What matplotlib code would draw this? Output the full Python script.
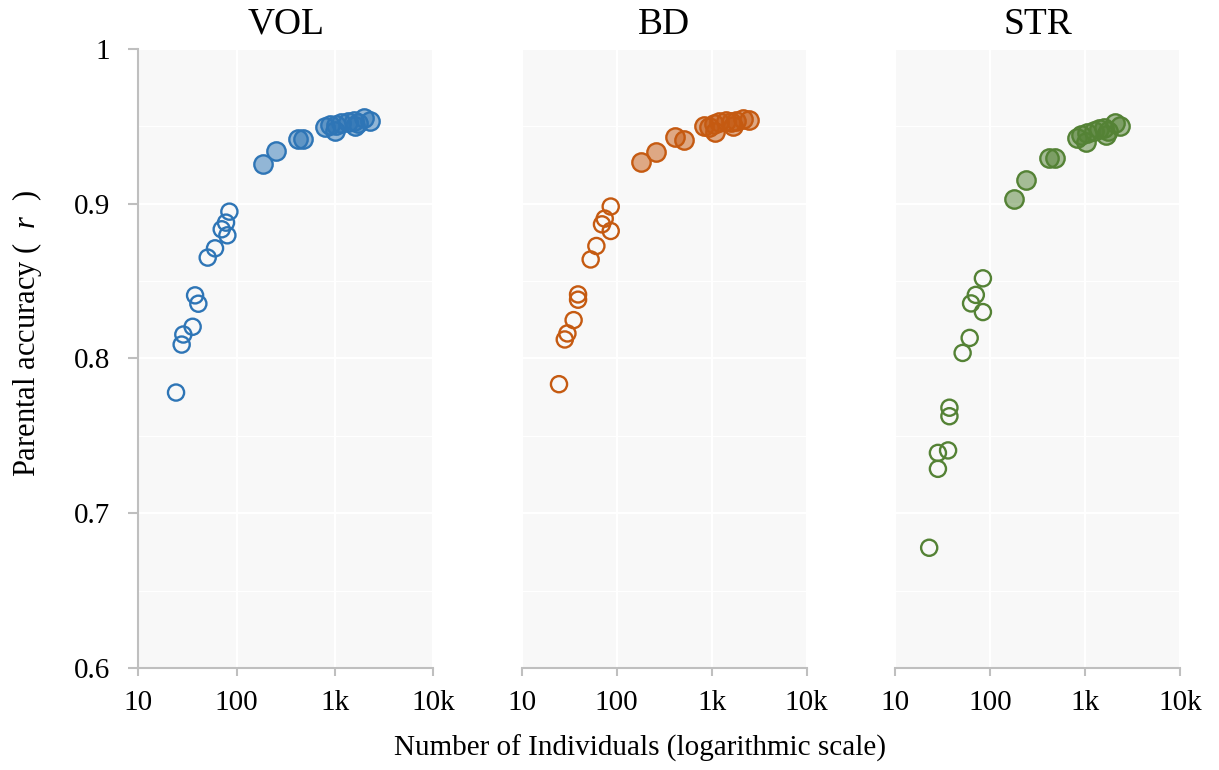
import matplotlib
matplotlib.use("Agg")
import matplotlib.pyplot as plt
from matplotlib.ticker import FixedLocator, FixedFormatter, MultipleLocator, NullFormatter

plt.rcParams['font.family'] = ['Liberation Serif', 'DejaVu Serif']
plt.rcParams['mathtext.fontset'] = 'custom'
plt.rcParams['mathtext.rm'] = 'Liberation Serif'
plt.rcParams['mathtext.it'] = 'Liberation Serif:italic'

# ---- data: number of individuals and parental accuracy per trait ----
traits = ["VOL", "BD", "STR"]
colors = ["#2E75B6", "#C55A11", "#548235"]

vol_small_n = [24.2, 27.6, 28.7, 35.7, 37.8, 40.8, 50.8, 60.3, 70.5, 78, 80.5, 84.4]
vol_small_r = [0.778, 0.809, 0.8155, 0.8205, 0.8408, 0.8354, 0.8652, 0.8712,
               0.8835, 0.8878, 0.8796, 0.8949]
vol_large_n = [184, 253, 416, 474, 783, 891, 1000, 1016, 1165, 1356, 1555, 1581,
               1706, 1986, 2280]
vol_large_r = [0.926, 0.934, 0.9418, 0.9416, 0.9494, 0.9509, 0.9472, 0.9509, 0.952,
               0.953, 0.9537, 0.9502, 0.9524, 0.9556, 0.9535]

bd_small_n = [24.7, 28.4, 30.3, 35.2, 39.2, 39.2, 53.2, 61.1, 70, 74.8, 86.5, 86.5]
bd_small_r = [0.7834, 0.8123, 0.8162, 0.8248, 0.8414, 0.838, 0.864, 0.8727,
              0.8867, 0.8904, 0.8824, 0.8982]
bd_large_n = [182, 257, 413, 507, 828, 937, 1077, 1059, 1198, 1410, 1595, 1663,
              1803, 2124, 2460]
bd_large_r = [0.9273, 0.9337, 0.9429, 0.9412, 0.9504, 0.9498, 0.9461, 0.9515, 0.9526,
              0.9536, 0.9526, 0.9504, 0.9536, 0.9547, 0.9541]

str_small_n = [22.9, 28.3, 28.3, 36.2, 37.4, 37.4, 51.5, 61.1, 63.2, 70.9, 84.2, 84.2]
str_small_r = [0.6777, 0.7287, 0.739, 0.7406, 0.7682, 0.7627, 0.8036, 0.8133,
               0.8356, 0.8411, 0.83, 0.8518]
str_large_n = [180, 242, 413, 479, 814, 899, 1016, 1059, 1248, 1409, 1596, 1664,
               1730, 2075, 2364]
str_large_r = [0.9029, 0.9154, 0.9297, 0.9297, 0.9425, 0.9444, 0.9401, 0.9456, 0.9468,
               0.948, 0.9487, 0.9444, 0.947, 0.952, 0.9504]

small_sets = [(vol_small_n, vol_small_r), (bd_small_n, bd_small_r), (str_small_n, str_small_r)]
large_sets = [(vol_large_n, vol_large_r), (bd_large_n, bd_large_r), (str_large_n, str_large_r)]

x_ticks = [10, 100, 1000, 10000]
x_tick_labels = ["10", "100", "1k", "10k"]
y_ticks = [0.6, 0.7, 0.8, 0.9, 1.0]
y_tick_labels = ["0.6", "0.7", "0.8", "0.9", "1"]

# ---- figure layout ----
W, H = 1219, 770
fig = plt.figure(figsize=(W / 100, H / 100), dpi=100)

panel_px = [(138.3, 295.0), (521.7, 285.0), (895.0, 285.0)]
top_px, bottom_px = 49.0, 668.0

spine_color = "#BFBFBF"
bg_color = "#F8F8F8"

for i, (trait, col) in enumerate(zip(traits, colors)):
    left, width = panel_px[i]
    ax = fig.add_axes([left / W, (H - bottom_px) / H, width / W, (bottom_px - top_px) / H])
    ax.set_facecolor(bg_color)
    ax.set_xscale("log")
    ax.set_xlim(10, 10000)
    ax.set_ylim(0.6, 1.0)

    # grid: decades vertically, 0.05 steps horizontally
    ax.xaxis.set_major_locator(FixedLocator(x_ticks))
    ax.xaxis.set_major_formatter(FixedFormatter(x_tick_labels))
    ax.xaxis.set_minor_locator(FixedLocator([]))
    ax.yaxis.set_major_locator(FixedLocator(y_ticks))
    ax.yaxis.set_minor_locator(MultipleLocator(0.05))
    ax.yaxis.set_minor_formatter(NullFormatter())
    ax.grid(True, which="major", axis="both", color="white", lw=1.6, zorder=0)
    ax.grid(True, which="minor", axis="y", color="white", lw=0.9, zorder=0)
    ax.set_axisbelow(True)

    for s in ["top", "right"]:
        ax.spines[s].set_visible(False)
    ax.spines["bottom"].set_color(spine_color)
    ax.spines["bottom"].set_linewidth(1.5)
    ax.tick_params(axis="x", which="major", direction="out", length=6, width=1.5,
                   color=spine_color, labelsize=21, pad=10)
    ax.tick_params(axis="y", which="minor", length=0)

    if i == 0:
        ax.spines["left"].set_color(spine_color)
        ax.spines["left"].set_linewidth(1.5)
        ax.yaxis.set_major_formatter(FixedFormatter(y_tick_labels))
        ax.tick_params(axis="y", which="major", direction="out", length=7, width=1.5,
                       color=spine_color, labelsize=21, pad=13)
    else:
        ax.spines["left"].set_visible(False)
        ax.tick_params(axis="y", which="major", length=0, labelleft=False)

    sn, sr = small_sets[i]
    ln, lr = large_sets[i]
    ax.scatter(sn, sr, s=135, facecolors="none", edgecolors=col, linewidths=1.7, zorder=3)
    ax.scatter(ln, lr, s=175, facecolors=matplotlib.colors.to_rgba(col, 0.5),
               edgecolors=col, linewidths=1.7, zorder=3)

    ax.set_title(trait, fontsize=27, pad=11)

fig.text(640 / W, 1 - 748 / H, "Number of Individuals (logarithmic scale)",
         ha="center", va="center", fontsize=21)
fig.text(27 / W, 1 - 334 / H, "Parental accuracy (  $\\it{r}$  )",
         ha="center", va="center", rotation=90, fontsize=22)

fig.savefig("out.png", dpi=100)
